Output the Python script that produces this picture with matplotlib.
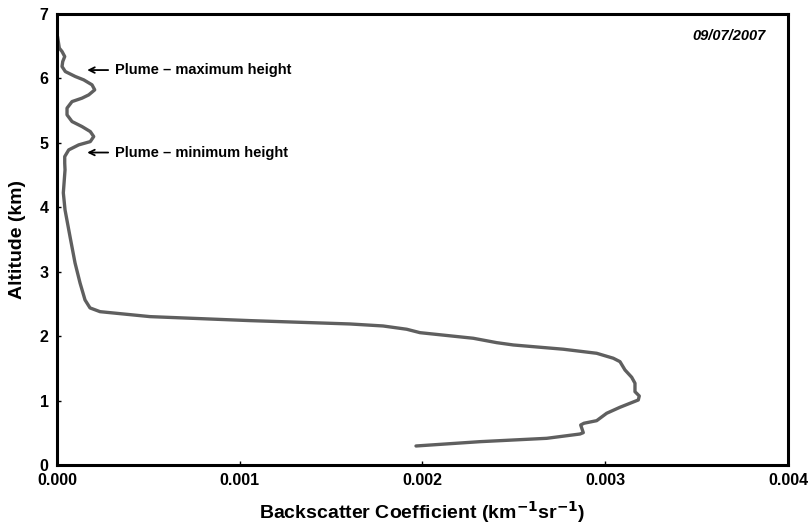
import matplotlib
matplotlib.use("Agg")
import matplotlib.pyplot as plt

plt.rcParams['font.family'] = ['Liberation Sans', 'DejaVu Sans']

# Backscatter coefficient (units of 1e-3 km^-1 sr^-1) and altitude (km), traced top-down
backscatter_e3 = [0.0027, 0.0126, 0.0274, 0.0421, 0.0312, 0.0274, 0.0454, 0.1001, 0.1461,
                  0.1915, 0.2063, 0.1735, 0.1368, 0.0821, 0.0547, 0.0547, 0.0821, 0.1368,
                  0.1822, 0.2008, 0.1822, 0.1187, 0.0640, 0.0421, 0.0421, 0.0438,
                  0.0345, 0.0438, 0.0711, 0.0985, 0.1259, 0.1532, 0.1806,
                  0.2353, 0.5089, 1.0561, 1.6033, 1.7839, 1.9136, 1.9863, 2.2780, 2.4060,
                  2.4969, 2.7705, 2.9532, 3.0441, 3.0807, 3.1081, 3.1447, 3.1628, 3.1628,
                  3.1863, 3.1808, 3.0807, 3.0079, 2.9532, 2.8837, 2.8657, 2.8799, 2.8618,
                  2.6796, 2.3146, 1.9644]
altitude_km = [6.651, 6.470, 6.418, 6.340, 6.262, 6.185, 6.107, 6.030, 5.978,
               5.901, 5.823, 5.745, 5.694, 5.641, 5.539, 5.435, 5.331, 5.253,
               5.175, 5.098, 5.020, 4.969, 4.891, 4.787, 4.685, 4.581,
               4.224, 3.960, 3.545, 3.137, 2.826, 2.562, 2.438,
               2.380, 2.303, 2.241, 2.189, 2.158, 2.107, 2.054, 1.967, 1.899,
               1.863, 1.797, 1.734, 1.657, 1.604, 1.475, 1.362, 1.269, 1.138,
               1.071, 1.009, 0.896, 0.803, 0.688, 0.648, 0.621, 0.502, 0.481,
               0.414, 0.362, 0.295]

x_ticks = [0.000, 0.001, 0.002, 0.003, 0.004]
x_tick_labels = ["0.000", "0.001", "0.002", "0.003", "0.004"]
y_ticks = [0, 1, 2, 3, 4, 5, 6, 7]

annotations = [("Plume \u2013 maximum height", 6.13), ("Plume \u2013 minimum height", 4.85)]
date_text = "09/07/2007"

backscatter = [v * 1e-3 for v in backscatter_e3]

fig = plt.figure(figsize=(8.1, 5.29), dpi=100)
ax = fig.add_axes([0.0704, 0.121, 0.9024, 0.8525])

ax.plot(backscatter, altitude_km, color='#5f5f5f', lw=2.4, solid_capstyle='round',
        solid_joinstyle='round')

ax.set_xlim(0, 0.004)
ax.set_ylim(0, 7)
ax.set_xticks(x_ticks)
ax.set_xticklabels(x_tick_labels)
ax.set_yticks(y_ticks)

for s in ax.spines.values():
    s.set_linewidth(2.2)
    s.set_color('black')

ax.tick_params(direction='in', length=3, width=1, labelsize=11.5)
ax.tick_params(axis='y', pad=6)
ax.tick_params(axis='x', pad=6)
for lab in ax.get_xticklabels() + ax.get_yticklabels():
    lab.set_fontweight('bold')

ax.set_xlabel("Backscatter Coefficient (km$^{\\mathbf{-1}}$sr$^{\\mathbf{-1}}$)",
              fontsize=14, fontweight='bold', labelpad=8)
ax.set_ylabel("Altitude (km)", fontsize=14, fontweight='bold', labelpad=10)

for txt, yv in annotations:
    ax.annotate("", xy=(0.000150, yv), xytext=(0.000295, yv),
                arrowprops=dict(arrowstyle='->', color='black', lw=1.3))
    ax.text(0.000320, yv, txt, fontsize=10.5, fontweight='bold', va='center', ha='left')

ax.text(0.00388, 6.66, date_text, fontsize=10.5, fontweight='bold', style='italic',
        ha='right', va='center')

fig.savefig("out.png", dpi=100)
